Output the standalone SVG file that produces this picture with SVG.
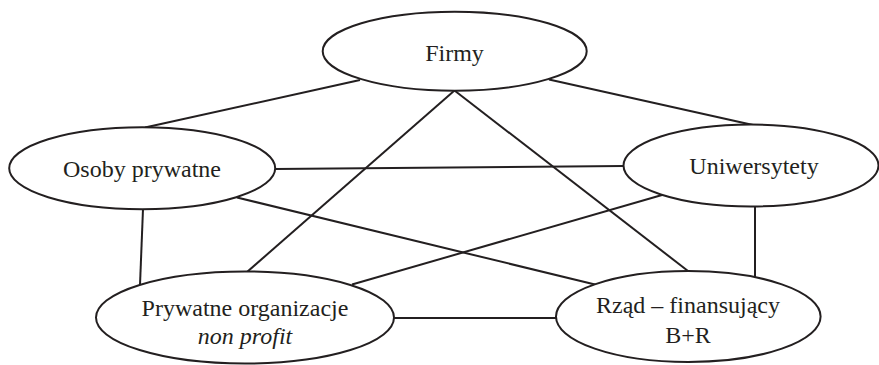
<svg xmlns="http://www.w3.org/2000/svg" width="879" height="365" viewBox="0 0 879 365">
  <style>
    .bg { fill: #ffffff; }
    .node ellipse { fill: #ffffff; stroke: #231f20; stroke-width: 2; }
    .node text { font-family: "Liberation Serif", "Times New Roman", serif; font-size: 24px; fill: #231f20; text-anchor: middle; }
    .edges line { stroke: #231f20; stroke-width: 2; stroke-linecap: butt; }
    .it { font-style: italic; }
  </style>
  <rect class="bg" x="0" y="0" width="879" height="365"/>
  <g id="connectors" class="edges">
    <line x1="145" y1="127.5" x2="360" y2="80"/>
    <line x1="549" y1="79.5" x2="753" y2="125"/>
    <line x1="454.5" y1="90.5" x2="247" y2="272"/>
    <line x1="454.5" y1="90.5" x2="688" y2="271"/>
    <line x1="275" y1="169" x2="623.5" y2="166"/>
    <line x1="237" y1="197.5" x2="595" y2="284.5"/>
    <line x1="143" y1="209" x2="140" y2="285"/>
    <line x1="662" y1="195" x2="352" y2="284.5"/>
    <line x1="755" y1="206.5" x2="755" y2="277"/>
    <line x1="394" y1="318" x2="556" y2="318"/>
  </g>
  <g id="firmy" class="node">
    <ellipse cx="454.7" cy="51.2" rx="132" ry="39.5"/>
    <text x="454.5" y="60.5">Firmy</text>
  </g>
  <g id="osoby" class="node">
    <ellipse cx="142.2" cy="168.2" rx="133" ry="41"/>
    <text x="142" y="176.5">Osoby prywatne</text>
  </g>
  <g id="uniwersytety" class="node">
    <ellipse cx="751" cy="165.5" rx="127.5" ry="41"/>
    <text x="754" y="174">Uniwersytety</text>
  </g>
  <g id="prywatne" class="node">
    <ellipse cx="245" cy="317.5" rx="149" ry="46"/>
    <text x="245" y="316">Prywatne organizacje</text>
    <text class="it" x="245" y="344">non profit</text>
  </g>
  <g id="rzad" class="node">
    <ellipse cx="688.3" cy="316.5" rx="132.3" ry="45.5"/>
    <text x="688" y="313">Rząd – finansujący</text>
    <text x="688" y="343">B+R</text>
  </g>
</svg>
